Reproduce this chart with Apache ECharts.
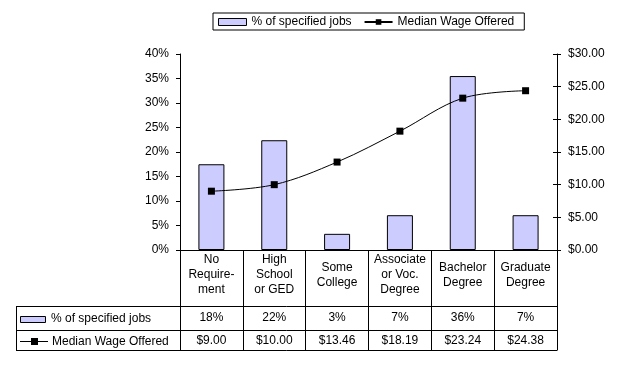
<!DOCTYPE html>
<html>
<head>
<meta charset="utf-8">
<script src="https://cdn.jsdelivr.net/npm/echarts@6/dist/echarts.min.js"></script>
<style>
html,body{margin:0;padding:0;background:#fff;}
#chart{width:623px;height:367px;}
</style>
</head>
<body>
<div id="chart"></div>
<script>
const categories = ['No\nRequire-\nment', 'High\nSchool\nor GED', 'Some\nCollege', 'Associate\nor Voc.\nDegree', 'Bachelor\nDegree', 'Graduate\nDegree'];
const pctJobs = [17.5, 22.4, 3.3, 7.1, 35.5, 7.1];
const medianWage = [9.00, 10.00, 13.46, 18.19, 23.24, 24.38];
const pctTicks = [0, 40, 5];
const wageTicks = [0, 30, 5];
const barName = '% of specified jobs';
const lineName = 'Median Wage Offered';

const FONT = '"Liberation Sans", Arial, sans-serif';
const pctLabels = pctJobs.map(v => Math.round(v) + '%');
const wageLabels = medianWage.map(v => '$' + v.toFixed(2));

const chart = echarts.init(document.getElementById('chart'), null, {renderer: 'canvas'});
const txt = {color: '#000', fontFamily: FONT, fontSize: 12};

const hiddenAxis = (data, offset, margin) => ({
  type: 'category', data: data, gridIndex: 0, position: 'bottom', offset: offset,
  axisLine: {show: false}, axisTick: {show: false}, splitLine: {show: false},
  axisLabel: Object.assign({}, txt, {margin: margin, interval: 0})
});

chart.setOption({
  backgroundColor: '#fff',
  animation: false,
  textStyle: {fontFamily: FONT},
  legend: {
    left: 213, top: 13,
    padding: [3, 10, 2, 5],
    borderColor: '#000', borderWidth: 1, borderRadius: 0,
    itemWidth: 28, itemHeight: 7, itemGap: 12,
    textStyle: Object.assign({}, txt, {padding: [0, 0, 0, 0]}),
    data: [
      {name: barName, icon: 'rect', itemStyle: {color: '#ccccff', borderColor: '#000', borderWidth: 1}},
      {name: lineName}
    ]
  },
  grid: {left: 180, right: 66, top: 54, bottom: 117, containLabel: false},
  xAxis: [
    {
      type: 'category', data: categories, position: 'bottom',
      axisLine: {show: true, lineStyle: {color: '#000', width: 1}},
      axisTick: {show: true, interval: 0, length: 100, lineStyle: {color: '#000', width: 1}},
      axisLabel: Object.assign({}, txt, {interval: 0, margin: 25, verticalAlign: 'middle', lineHeight: 15, align: 'center'}),
      splitLine: {show: false}
    },
    hiddenAxis(pctLabels, 56, 6),
    hiddenAxis(wageLabels, 80, 5)
  ],
  yAxis: [
    {
      type: 'value', min: pctTicks[0], max: pctTicks[1], interval: pctTicks[2], position: 'left',
      axisLine: {show: true, lineStyle: {color: '#000'}},
      axisTick: {show: true, length: 4, lineStyle: {color: '#000'}},
      axisLabel: Object.assign({}, txt, {margin: 11, formatter: v => v + '%'}),
      splitLine: {show: false}
    },
    {
      type: 'value', min: wageTicks[0], max: wageTicks[1], interval: wageTicks[2], position: 'right', offset: 0,
      axisLine: {show: true, lineStyle: {color: '#000'}},
      axisTick: {show: true, length: 4, lineStyle: {color: '#000'}},
      axisLabel: Object.assign({}, txt, {margin: 11, formatter: v => '$' + v.toFixed(2)}),
      splitLine: {show: false}
    },
    {
      type: 'value', min: wageTicks[0], max: wageTicks[1], interval: wageTicks[2], position: 'right', offset: 0,
      axisLine: {show: false},
      axisTick: {show: true, inside: true, length: 4, lineStyle: {color: '#000'}},
      axisLabel: {show: false},
      splitLine: {show: false}
    }
  ],
  series: [
    {
      name: barName, type: 'bar', xAxisIndex: 0, yAxisIndex: 0, data: pctJobs,
      barWidth: 26,
      itemStyle: {color: '#ccccff', borderColor: '#000', borderWidth: 1}
    },
    {
      name: lineName, type: 'line', xAxisIndex: 0, yAxisIndex: 1, data: medianWage,
      smooth: 0.35, symbol: 'rect', symbolSize: 7, showSymbol: true,
      lineStyle: {color: '#000', width: 1},
      itemStyle: {color: '#000', borderColor: '#000', borderWidth: 0}
    }
  ],
  graphic: [
    {type: 'line', shape: {x1: 16, y1: 306.5, x2: 557.5, y2: 306.5}, style: {stroke: '#000', lineWidth: 1}},
    {type: 'line', shape: {x1: 16, y1: 330.5, x2: 557.5, y2: 330.5}, style: {stroke: '#000', lineWidth: 1}},
    {type: 'line', shape: {x1: 16, y1: 350.5, x2: 557.5, y2: 350.5}, style: {stroke: '#000', lineWidth: 1}},
    {type: 'line', shape: {x1: 16.5, y1: 306, x2: 16.5, y2: 351}, style: {stroke: '#000', lineWidth: 1}},
    {type: 'rect', shape: {x: 20.5, y: 316.5, width: 25, height: 6}, style: {fill: '#ccccff', stroke: '#000', lineWidth: 1}},
    {type: 'text', x: 51, y: 319, style: {text: barName, fill: '#000', font: '12px ' + FONT, verticalAlign: 'middle'}},
    {type: 'line', shape: {x1: 20, y1: 341.5, x2: 48, y2: 341.5}, style: {stroke: '#000', lineWidth: 1}},
    {type: 'rect', shape: {x: 31, y: 338, width: 7, height: 7}, style: {fill: '#000'}},
    {type: 'text', x: 52, y: 342, style: {text: lineName, fill: '#000', font: '12px ' + FONT, verticalAlign: 'middle'}}
  ]
});
</script>
</body>
</html>
